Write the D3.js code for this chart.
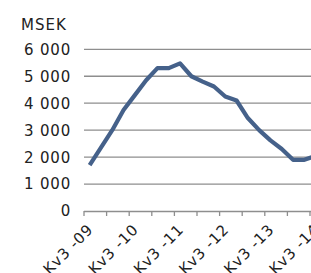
<!DOCTYPE html>
<html><head><meta charset="utf-8">
<script src="https://cdn.jsdelivr.net/npm/d3@7"></script>
<style>
html,body{margin:0;padding:0;background:#fff;overflow:hidden;}
text{font-family:"DejaVu Sans",sans-serif;fill:#222;}
</style></head>
<body>
<svg id="c" width="311" height="273"></svg>
<script>
const categories = ["Kv3 -09","Kv4 -09","Kv1 -10","Kv2 -10","Kv3 -10","Kv4 -10","Kv1 -11","Kv2 -11","Kv3 -11","Kv4 -11","Kv1 -12","Kv2 -12","Kv3 -12","Kv4 -12","Kv1 -13","Kv2 -13","Kv3 -13","Kv4 -13","Kv1 -14","Kv2 -14","Kv3 -14"];
const values = [1700,2350,3000,3750,4300,4850,5300,5300,5480,5000,4800,4620,4250,4100,3450,3000,2620,2300,1900,1900,2050];
const yTicks = [0,1000,2000,3000,4000,5000,6000];
const unitLabel = "MSEK";

const svg = d3.select("#c");
const left = 84, bw = 11.3;
const x = d3.scaleBand().domain(categories).range([left, left + categories.length*bw]).padding(0);
const y = d3.scaleLinear().domain([0,6000]).range([211,49.3]);
const fmt = v => d3.format(",")(v).replace(/,/g," ");
const fs = 15;

// gridlines
svg.append("g").selectAll("line").data(yTicks.filter(d=>d>0)).join("line")
  .attr("x1", left).attr("x2", 330)
  .attr("y1", d=>y(d)).attr("y2", d=>y(d))
  .attr("stroke","#8e8e8e").attr("stroke-width",1.3);

// y labels
svg.append("g").selectAll("text").data(yTicks).join("text")
  .attr("x", 71).attr("y", d=>y(d)).attr("dy","0.36em")
  .attr("text-anchor","end").attr("font-size",fs).attr("letter-spacing","0.8px")
  .text(fmt);

svg.append("text").attr("x",21).attr("y",30).attr("font-size",fs).attr("letter-spacing","1px").text(unitLabel);

// x axis line and ticks
svg.append("line").attr("x1",left).attr("x2",330).attr("y1",y(0)+0.5).attr("y2",y(0)+0.5)
  .attr("stroke","#8e8e8e").attr("stroke-width",1.5);
const tickCats = categories.filter((d,i)=>i%2===0);
svg.append("g").selectAll("line").data(tickCats).join("line")
  .attr("x1", d=>x(d)).attr("x2", d=>x(d))
  .attr("y1", y(0)).attr("y2", y(0)+5)
  .attr("stroke","#8e8e8e").attr("stroke-width",1.3);

// x labels
const labCats = categories.filter((d,i)=>i%4===0);
svg.append("g").selectAll("text").data(labCats).join("text")
  .attr("transform", d=>`translate(${x(d)+x.bandwidth()/2+1},${227}) rotate(-45)`)
  .attr("text-anchor","end").attr("dominant-baseline","central")
  .attr("font-size",fs).attr("letter-spacing","0.8px")
  .text(d=>d);

// line
const line = d3.line().x((d,i)=>x(categories[i])+x.bandwidth()/2).y(d=>y(d));
svg.append("path").datum(values).attr("d", line)
  .attr("fill","none").attr("stroke","#45618a").attr("stroke-width",4.2)
  .attr("stroke-linejoin","round").attr("stroke-linecap","butt");
</script>
</body></html>
